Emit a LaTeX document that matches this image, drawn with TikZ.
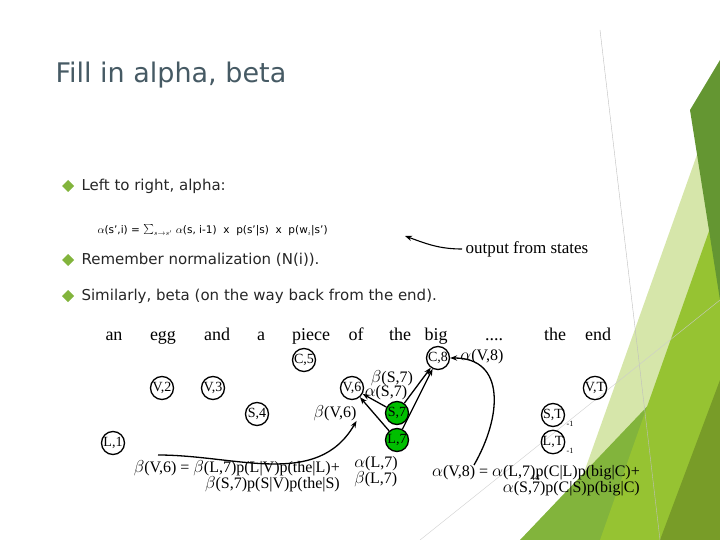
\documentclass[tikz,border=0pt]{standalone}
\usepackage{fontspec}
\setsansfont{DejaVu Sans}
\setmainfont{Liberation Serif}
\usetikzlibrary{arrows.meta}
\definecolor{lg}{RGB}{214,230,170}
\definecolor{mg}{RGB}{130,180,60}
\definecolor{dg}{RGB}{100,150,50}
\definecolor{yg}{RGB}{150,195,50}
\definecolor{tc}{RGB}{70,90,100}
\begin{document}
\begin{tikzpicture}[x=1pt,y=-1pt,
  st/.style={circle,draw,line width=1.3pt,minimum size=23pt,inner sep=0pt,font=\fontsize{14}{14}\selectfont},
  gs/.style={st,fill=green!75!black},
  wd/.style={font=\fontsize{18}{18}\selectfont,anchor=base},
  lb/.style={font=\fontsize{16}{16}\selectfont,inner sep=0pt},
  bl/.style={font=\sffamily\fontsize{15}{15}\selectfont,anchor=west,text=black!85},
  ar/.style={-{Stealth[length=7pt]},line width=1.3pt},
  bul/.style={fill=mg,draw=none}]
\useasboundingbox (0,0) rectangle (720,540);
% background
\fill[lg] (560,540) -- (720,90) -- (720,540) -- cycle;
\fill[mg] (520,540) -- (720,330) -- (720,540) -- cycle;
\fill[yg] (600,540) -- (720,200) -- (720,540)--cycle;
\fill[dg] (690,110) -- (720,60) -- (720,300) -- cycle;
\fill[yg!80!black] (660,540) -- (720,380) -- (720,540) -- cycle;
\draw[gray!50] (600,30) -- (660,540);
\draw[gray!40] (420,540) -- (720,300);
% title
\node[anchor=west,font=\sffamily\fontsize{27}{27}\selectfont,text=tc] (title) at (52,75) {Fill in alpha, beta};
% bullets
\foreach \y in {186,260,296}{\fill[bul] (62,\y) -- (68,\y-6) -- (74,\y) -- (68,\y+6) -- cycle;}
\node[bl] (t1) at (78,186) {Left to right, alpha:};
\node[anchor=west,font=\sffamily\fontsize{10.5}{11}\selectfont] (f) at (94,230) {$\alpha$(s',i) = {\LARGE$\sum$}$_{s\to s'}$ $\alpha$(s, i-1) \ x \ p(s'|s) \ x \ p(w$_i$|s')};
\coordinate (fe) at (405,236);
\node[bl] (t2) at (78,260) {Remember normalization (N(i)).};
\node[bl] (t3) at (78,296) {Similarly, beta (on the way back from the end).};
\node[anchor=west,font=\fontsize{17}{17}\selectfont] (ofs) at (462,249) {output from states};
\draw[ar,line width=1.1pt] (ofs.west) to[out=180,in=-20] (fe);
% words
\foreach \x/\w [count=\i] in {114/an,163/egg,217/and,261/a,311/piece,356/of,400/the,436/big,494/{....},555/the,598/end}
  \node[wd] (w\i) at (\x,340) {\w};
% states
\node[st] (c5) at (304,360) {C,5};
\node[st] (v2) at (162,388) {V,2};
\node[st] (v3) at (213,388) {V,3};
\node[st] (s4) at (257,414) {S,4};
\node[st] (l1) at (113,443) {L,1};
\node[st] (v6) at (352,388) {V,6};
\node[gs] (s7) at (397,413) {S,7};
\node[gs] (l7) at (397,440) {L,7};
\node[st] (c8) at (438,358) {C,8};
\node[st] (vt) at (595,388) {V,T};
\node[st] (st1) at (553,415) {S,T};
\node[st] (lt1) at (553,442) {L,T};
\node[font=\fontsize{8}{8}\selectfont] (m1) at (570,424) {-1};
\node[font=\fontsize{8}{8}\selectfont] (m2) at (570,451) {-1};
\draw[ar] (s7) -- (v6);
\draw[ar] (l7) -- (v6);
\draw[ar] (s7) -- (c8);
\draw[ar] (l7) -- (c8);
% labels
\node[lb] (bs7) at (392,378) {$\beta$(S,7)};
\node[lb] (as7) at (386,393) {$\alpha$(S,7)};
\node[lb] (av8) at (482,357) {$\alpha$(V,8)};
\node[lb] (bv6) at (335,413) {$\beta$(V,6)};
\node[lb,align=left] (al7) at (376,472) {$\alpha$(L,7)\\$\beta$(L,7)};
\node[lb,align=right,anchor=north east] (eqb) at (340,460) {$\beta$(V,6) = $\beta$(L,7)p(L|V)p(the|L)+\\$\beta$(S,7)p(S|V)p(the|S)};
\node[lb,align=right,anchor=north east] (eqa) at (640,465) {$\alpha$(V,8) = $\alpha$(L,7)p(C|L)p(big|C)+\\$\alpha$(S,7)p(C|S)p(big|C)};
\coordinate (bvs) at (158,455);
\draw[ar] (bvs) to[out=0,in=-120] (bv6.south east);
\coordinate (avs) at (474,465);
\draw[ar] (avs) to[out=60,in=0,looseness=1.3] (c8.east);
\node[font=\fontsize{9}{9}\selectfont] (pg) at (535,478) {44};
\end{tikzpicture}
\end{document}
